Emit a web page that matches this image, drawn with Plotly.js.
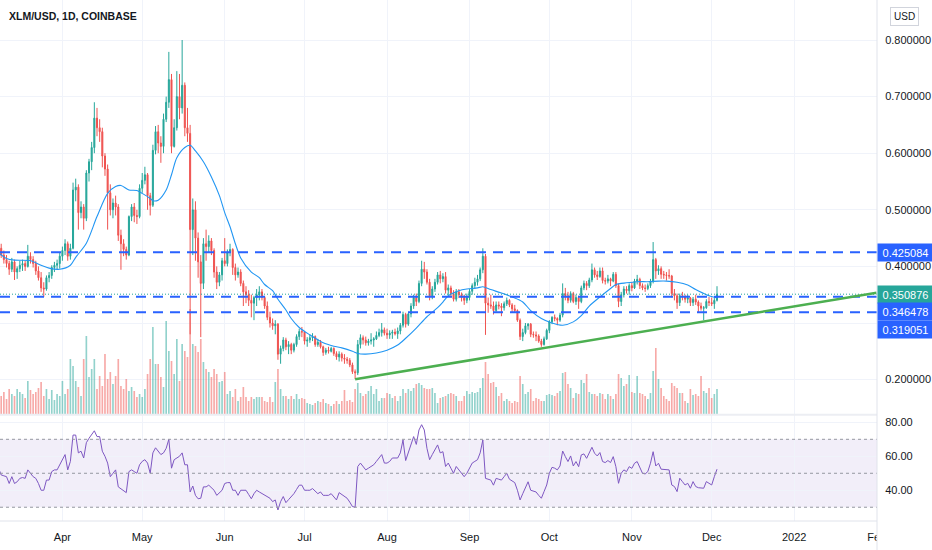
<!DOCTYPE html>
<html><head><meta charset="utf-8">
<script src="https://cdn.plot.ly/plotly-3.0.1.min.js"></script>
<style>html,body{margin:0;padding:0;background:#fff}#chart{width:932px;height:550px}</style>
</head><body><div id="chart"></div>
<script>
// ---------------- DATA (daily candles from 2021-03-08) ----------------
const startDate = '2021-03-08';

const openPrice = [
.415,.432,.42,.412,.405,.395,.408,.39,.396,.402,
.405,.40,.418,.412,.405,.392,.38,.362,.36,.38,
.384,.398,.402,.405,.418,.428,.44,.418,.432,.535,
.54,.495,.505,.485,.565,.585,.61,.662,.645,.638,
.595,.572,.53,.50,.512,.505,.455,.44,.43,.42,
.488,.505,.49,.488,.538,.552,.562,.525,.508,.605,
.638,.618,.612,.66,.69,.73,.612,.645,.70,.68,
.72,.645,.635,.465,.50,.45,.408,.37,.44,.435,
.445,.428,.39,.372,.385,.41,.405,.425,.43,.398,
.385,.39,.37,.355,.35,.34,.335,.345,.35,.355,
.345,.33,.31,.30,.295,.298,.245,.255,.27,.258,
.262,.252,.262,.276,.285,.284,.268,.27,.274,.276,
.262,.266,.258,.248,.252,.25,.255,.246,.24,.245,
.238,.236,.234,.226,.214,.212,.262,.274,.27,.265,
.268,.27,.272,.278,.283,.288,.282,.279,.282,.284,
.281,.286,.296,.315,.298,.316,.33,.345,.338,.37,
.395,.39,.372,.348,.36,.372,.385,.378,.382,.358,
.362,.352,.342,.355,.35,.345,.34,.345,.356,.366,
.372,.378,.394,.418,.335,.332,.33,.322,.332,.33,
.327,.334,.34,.332,.325,.322,.305,.276,.283,.295,
.298,.28,.279,.277,.268,.262,.272,.287,.302,.31,
.308,.305,.314,.352,.348,.34,.352,.338,.345,.338,
.362,.37,.366,.376,.394,.385,.382,.392,.375,.374,
.378,.374,.386,.366,.338,.35,.36,.357,.366,.362,
.374,.377,.366,.362,.361,.366,.374,.412,.392,.396,
.386,.385,.384,.383,.352,.348,.336,.348,.346,.342,
.344,.336,.342,.337,.33,.326,.327,.338,.336,.334,.34];

const highPrice = [
.438,.44,.428,.42,.41,.415,.412,.40,.41,.412,
.41,.438,.425,.418,.41,.40,.39,.372,.384,.39,
.402,.408,.412,.425,.435,.448,.444,.44,.548,.555,
.545,.515,.51,.57,.59,.62,.69,.68,.66,.645,
.60,.58,.545,.52,.525,.51,.465,.448,.435,.49,
.51,.512,.50,.545,.565,.576,.565,.53,.615,.648,
.65,.63,.67,.70,.779,.74,.66,.745,.74,.80,
.725,.68,.65,.52,.515,.46,.42,.45,.465,.455,
.45,.432,.40,.39,.415,.45,.43,.44,.432,.405,
.398,.395,.375,.365,.358,.35,.348,.36,.365,.36,
.348,.338,.32,.308,.305,.30,.26,.275,.274,.268,
.265,.265,.28,.29,.293,.286,.275,.28,.282,.278,
.272,.27,.26,.256,.258,.258,.257,.25,.25,.248,
.245,.24,.238,.23,.218,.27,.28,.278,.276,.272,
.282,.275,.285,.29,.30,.292,.29,.287,.288,.29,
.292,.30,.32,.318,.318,.335,.35,.352,.375,.41,
.408,.395,.378,.365,.378,.39,.392,.388,.39,.368,
.366,.358,.36,.36,.354,.35,.352,.36,.37,.38,
.385,.398,.432,.422,.345,.35,.338,.338,.338,.335,
.338,.345,.342,.335,.332,.324,.308,.29,.30,.30,
.30,.285,.285,.28,.272,.276,.29,.305,.312,.315,
.31,.318,.37,.362,.355,.356,.355,.35,.348,.366,
.375,.374,.38,.405,.398,.392,.398,.398,.38,.385,
.38,.39,.39,.37,.355,.365,.365,.37,.372,.378,
.385,.38,.37,.368,.37,.378,.443,.415,.402,.40,
.392,.39,.395,.385,.36,.352,.352,.355,.35,.35,
.346,.346,.35,.34,.336,.33,.342,.346,.345,.344,.365];

const lowPrice = [
.41,.415,.405,.398,.385,.39,.376,.378,.39,.392,
.392,.398,.405,.398,.385,.375,.355,.346,.357,.372,
.378,.39,.395,.396,.41,.42,.41,.412,.43,.515,
.465,.485,.465,.48,.55,.57,.60,.63,.62,.575,
.56,.465,.49,.485,.49,.445,.394,.418,.412,.418,
.48,.478,.475,.485,.53,.545,.50,.49,.505,.598,
.60,.583,.60,.655,.68,.60,.61,.64,.66,.67,
.63,.62,.28,.42,.41,.38,.275,.36,.41,.425,
.42,.38,.36,.365,.375,.40,.40,.418,.385,.375,
.38,.365,.33,.335,.33,.31,.305,.33,.34,.34,
.325,.305,.292,.288,.28,.235,.228,.25,.252,.245,
.245,.248,.258,.27,.275,.262,.258,.265,.268,.258,
.258,.255,.242,.244,.246,.248,.242,.235,.232,.232,
.228,.228,.222,.21,.201,.208,.255,.262,.26,.26,
.262,.258,.27,.275,.276,.278,.272,.272,.272,.278,
.272,.28,.292,.292,.295,.31,.325,.33,.335,.365,
.378,.368,.34,.342,.355,.368,.37,.372,.352,.348,
.345,.338,.338,.344,.338,.332,.335,.34,.35,.36,
.366,.374,.388,.279,.318,.325,.315,.32,.324,.312,
.322,.33,.328,.318,.318,.302,.27,.268,.28,.288,
.275,.274,.268,.265,.258,.26,.27,.282,.298,.303,
.296,.302,.31,.34,.335,.336,.335,.332,.325,.335,
.358,.358,.362,.372,.38,.376,.38,.37,.368,.37,
.365,.372,.362,.328,.33,.345,.352,.35,.356,.36,
.368,.36,.358,.355,.358,.362,.37,.378,.385,.378,
.378,.375,.378,.345,.34,.325,.33,.34,.336,.335,
.33,.33,.332,.318,.322,.305,.325,.33,.33,.325,.338];

const closePrice = [
.432,.42,.412,.405,.395,.408,.39,.396,.402,.405,
.40,.418,.412,.405,.392,.38,.362,.36,.38,.384,
.398,.402,.405,.418,.428,.44,.418,.432,.535,.54,
.495,.505,.485,.565,.585,.61,.662,.645,.638,.595,
.572,.53,.50,.512,.505,.455,.44,.43,.42,.488,
.505,.49,.488,.538,.552,.562,.525,.508,.605,.638,
.618,.612,.66,.69,.73,.612,.645,.70,.68,.72,
.645,.635,.465,.50,.45,.408,.37,.44,.435,.445,
.428,.39,.372,.385,.41,.405,.425,.43,.398,.385,
.39,.37,.355,.35,.34,.335,.345,.35,.355,.345,
.33,.31,.30,.295,.298,.245,.255,.27,.258,.262,
.252,.262,.276,.285,.284,.268,.27,.274,.276,.262,
.266,.258,.248,.252,.25,.255,.246,.24,.245,.238,
.236,.234,.226,.214,.212,.262,.274,.27,.265,.268,
.27,.272,.278,.283,.288,.282,.279,.282,.284,.281,
.286,.296,.315,.298,.316,.33,.345,.338,.37,.395,
.39,.372,.348,.36,.372,.385,.378,.382,.358,.362,
.352,.342,.355,.35,.345,.34,.345,.356,.366,.372,
.378,.394,.418,.335,.332,.33,.322,.332,.33,.327,
.334,.34,.332,.325,.322,.305,.276,.283,.295,.298,
.28,.279,.277,.268,.262,.272,.287,.302,.31,.308,
.305,.314,.352,.348,.34,.352,.338,.345,.338,.362,
.37,.366,.376,.394,.385,.382,.392,.375,.374,.378,
.374,.386,.366,.338,.35,.36,.357,.366,.362,.374,
.377,.366,.362,.361,.366,.374,.412,.392,.396,.386,
.385,.384,.383,.352,.348,.336,.348,.346,.342,.344,
.336,.342,.337,.33,.326,.327,.338,.336,.334,.34,.350876];

const volume = [
20,18,22,15,25,20,18,25,22,20,
16,33,24,20,22,26,32,18,25,15,
24,14,20,18,33,20,25,55,48,33,
27,18,55,78,37,45,55,25,38,28,
60,35,42,30,38,55,28,25,35,23,
27,23,17,20,17,25,40,55,87,50,
50,37,27,93,63,53,40,75,33,70,
63,57,105,70,68,62,75,52,45,42,
37,45,40,32,33,42,20,23,17,25,
13,17,27,17,13,17,15,17,17,17,
13,12,17,12,32,45,25,18,18,15,
18,15,20,15,16,15,11,10,9,11,
13,12,15,11,10,8,10,13,10,13,
24,13,14,12,25,31,21,18,20,23,
28,20,25,13,16,16,21,20,16,18,
13,18,25,21,25,23,26,30,31,29,
26,25,25,26,21,11,16,17,18,20,
21,20,18,13,13,18,23,20,22,21,
22,26,36,52,40,31,32,27,18,21,
13,15,13,11,13,12,38,30,20,22,
25,13,16,15,13,13,19,20,19,18,
21,23,41,42,30,26,16,21,20,34,
31,40,22,20,20,18,21,20,15,20,
18,15,20,40,36,28,30,39,22,21,
38,21,20,18,15,21,43,66,35,26,
18,15,13,31,28,26,21,21,13,11,
25,19,20,18,38,23,21,26,16,20,25];

const rsiValue = [
53,49,48.5,48,44,48,44,45,47,47.5,
47,52,50,48,47,44,40,40,46,46,
51,52,52,55,58,61,52,57,72.5,72.5,
62,63,59,68,70.6,73,75,71.6,71.6,63,
60,56,48,50,52,42,41,40,38.6,51,
52,51,50,55,57,58,56,50,62,65,
63,61,62,64.7,70,53,58,59,60,62,
55,55,39,42.5,37,35,35.3,42,42,43,
41.5,40,37,38.5,40,44,44.5,44.5,40,40,
37,40,40,40,37.5,35,38,40,39,38,
37,36.3,35.3,33.3,34.3,28.4,33.3,36.3,32.7,34.5,
36.3,38,40.5,43,43,40,40,40,41,39.5,
38,39,37,37,37,38,36,34.3,38.6,37.5,
36.7,35.3,33,30.4,30,54,56,54,52,53,
54,55,57,59,61,56,56,57,59,59,
59,62,69.6,57.5,62,67,71.6,67,75.5,78.6,
75.5,64.7,58,61,63.7,66.7,62,62.7,54,56,
53,50,54,52,50.4,48,50,53,56,57,
58,62,69.6,47,46.5,46,43,47,46.5,46,
48,50,46.5,45.5,44.5,40,34.3,38,42,45,
40,39.5,39,37,35.3,39.2,43.1,50,53.5,53,
52,54.3,63.1,59.8,56.9,60.2,54.3,56.9,53.9,60.8,
61.4,58.8,61.8,65.3,61.8,60.2,62.2,56.9,56.3,57.5,
56.3,59.8,53.9,44.1,50,52,51,53.9,52.9,55.9,
56.9,52.9,50,49.6,51,55.9,62.7,54.3,55.9,52.4,
52.2,52,52,43.1,42.2,39.2,47.1,45.1,43.1,44.1,
41.2,45.1,42.2,41.5,41.2,41.2,45.1,44,43.1,48,52.4];

// moving average, read at sampled days (day index from startDate)
const maDay = [0,3,6,12,16,19,23,27,29,33,37,41,44,46,49,52,54,57,58,60,63,65,67,70,72,74,77,80,83,85,87,89,91,95,98,100,103,105,108,110,113,117,122,126,129,133,135,138,142,146,150,153,157,161,165,167,169,173,176,180,182,185,189,193,197,200,204,208,212,216,219,222,226,230,232,236,240,244,248,251,255,259,262,266,270];
const maValue = [.424,.414,.411,.41,.402,.397,.395,.402,.416,.441,.488,.529,.541,.543,.535,.534,.529,.52,.516,.517,.535,.562,.592,.61,.614,.604,.585,.558,.525,.495,.47,.44,.415,.39,.38,.368,.357,.342,.323,.308,.292,.279,.265,.259,.256,.25,.246,.245,.247,.252,.261,.273,.291,.311,.327,.337,.348,.357,.36,.362,.364,.359,.353,.346,.337,.322,.308,.30,.296,.302,.313,.33,.346,.361,.368,.371,.373,.373,.374,.374,.372,.367,.359,.35,.344];

const monthTicks = ['2021-04-01','2021-05-01','2021-06-01','2021-07-01','2021-08-01','2021-09-01','2021-10-01','2021-11-01','2021-12-01','2022-01-01','2022-02-01'];
const monthLabels = ['Apr','May','Jun','Jul','Aug','Sep','Oct','Nov','Dec','2022','Feb'];
const priceTicks = [0.2,0.3,0.4,0.5,0.6,0.7,0.8];
const priceTickText = ['0.200000','','0.400000','0.500000','0.600000','0.700000','0.800000'];
const rsiTicks = [40,60,80];
const rsiTickText = ['40.00','60.00','80.00'];
const rsiLevels = [70,50,30];
const levelPrices = [0.425084,0.346478,0.319051];
const levelLabels = ['0.425084','0.346478','0.319051'];
const lastPrice = 0.350876;
const lastPriceLabel = '0.350876';
const trendStart = ['2021-07-20',0.2005];
const trendEnd = ['2022-02-01',0.3534];
const chartTitle = 'XLM/USD, 1D, COINBASE';
const currencyLabel = 'USD';

// ---------------- BUILD ----------------
const DAY = 86400000;
const base = Date.parse(startDate + 'T00:00:00Z');
const toDate = k => new Date(base + k * DAY).toISOString().slice(0, 10);
const dates = closePrice.map((_, k) => toDate(k));
const maDates = maDay.map(toDate);

const UP = '#26a69a', DOWN = '#ef5350', BLUE = '#2962ff';
const FONT = 'Liberation Sans, Arial, sans-serif';
const TXT = '#131722';
const GRID = '#f0f3fa';

const volColors = closePrice.map((c, i) => c >= openPrice[i] ? 'rgba(38,166,154,0.5)' : 'rgba(239,83,80,0.5)');

const traces = [
  { type: 'bar', x: dates, y: volume, xaxis: 'x', yaxis: 'y2', marker: { color: volColors, line: { width: 0 } }, width: 0.62 * DAY, hoverinfo: 'skip' },
  { type: 'candlestick', x: dates, open: openPrice, high: highPrice, low: lowPrice, close: closePrice, xaxis: 'x', yaxis: 'y',
    increasing: { line: { color: UP, width: 1 }, fillcolor: UP },
    decreasing: { line: { color: DOWN, width: 1 }, fillcolor: DOWN },
    whiskerwidth: 0, hoverinfo: 'skip' },
  { type: 'scatter', mode: 'lines', x: maDates, y: maValue, xaxis: 'x', yaxis: 'y', line: { color: '#2196f3', width: 1.1, shape: 'spline', smoothing: 0.8 }, hoverinfo: 'skip' },
  { type: 'scatter', mode: 'lines', x: dates, y: rsiValue, xaxis: 'x', yaxis: 'y3', line: { color: '#7e57c2', width: 1 }, hoverinfo: 'skip' }
];

const split = 107 / 521;
const shapes = [];
shapes.push({ type: 'rect', xref: 'paper', x0: 0, x1: 1, yref: 'y3', y0: 30, y1: 70, fillcolor: 'rgba(126,87,194,0.1)', line: { width: 0 }, layer: 'below' });
rsiLevels.forEach(v => shapes.push({ type: 'line', xref: 'paper', x0: 0, x1: 1, yref: 'y3', y0: v, y1: v, line: { color: '#9598a1', width: 1, dash: '3px,3px' } }));
shapes.push({ type: 'line', xref: 'paper', x0: 0, x1: 1, yref: 'y', y0: lastPrice, y1: lastPrice, line: { color: UP, width: 1, dash: '1px,2px' } });
levelPrices.forEach(v => shapes.push({ type: 'line', xref: 'paper', x0: 0, x1: 1, yref: 'y', y0: v, y1: v, line: { color: BLUE, width: 2, dash: '10px,7px' } }));
shapes.push({ type: 'line', xref: 'x', yref: 'y', x0: trendStart[0], y0: trendStart[1], x1: trendEnd[0], y1: trendEnd[1], line: { color: '#4caf50', width: 2.5 } });
shapes.push({ type: 'line', xref: 'paper', x0: 0, x1: 1, yref: 'paper', y0: (521 - 414.8) / 521, y1: (521 - 414.8) / 521, line: { color: '#eceef3', width: 2 } });
shapes.push({ type: 'line', xref: 'paper', x0: 0, x1: 1, yref: 'paper', y0: 0, y1: 0, line: { color: '#e0e3eb', width: 1 } });
shapes.push({ type: 'rect', xref: 'paper', x0: 1, x1: 1.08, yref: 'paper', y0: -0.06, y1: -0.002, fillcolor: '#ffffff', line: { width: 0 }, layer: 'above' });
shapes.push({ type: 'line', xref: 'paper', x0: 1, x1: 1, yref: 'paper', y0: -0.06, y1: 1, line: { color: '#e0e3eb', width: 1 } });

const labelBox = (text, y, color, yshift) => ({
  xref: 'paper', x: 1, xanchor: 'left', yref: 'y', y: y, yanchor: 'middle', yshift: yshift,
  text: text, showarrow: false, bgcolor: color, width: 51, height: 13, borderpad: 2, align: 'center',
  font: { family: FONT, size: 11, color: '#ffffff' }
});

const annotations = [
  { xref: 'paper', x: 0.008, xanchor: 'left', yref: 'paper', y: 1 - 16 / 521, yanchor: 'middle', text: '<b>' + chartTitle + '</b>', showarrow: false, font: { family: FONT, size: 10.5, color: TXT } },
  { xref: 'paper', x: 904.7 / 877, xanchor: 'center', yref: 'paper', y: 1 - 16.3 / 521, yanchor: 'middle', text: currencyLabel, showarrow: false, bgcolor: '#ffffff', bordercolor: '#d1d4dc', borderwidth: 1, borderpad: 3, font: { family: FONT, size: 10, color: TXT } },
  labelBox(levelLabels[0], levelPrices[0], BLUE, 0),
  labelBox(lastPriceLabel, lastPrice, UP, 0),
  labelBox(levelLabels[1], levelPrices[1], BLUE, -15),
  labelBox(levelLabels[2], levelPrices[2], BLUE, -17)
];

const layout = {
  width: 932, height: 550,
  margin: { l: 0, r: 55, t: 0, b: 29, pad: 0 },
  paper_bgcolor: '#ffffff', plot_bgcolor: '#ffffff',
  showlegend: false, dragmode: false, hovermode: false,
  boxgap: 0.45, bargap: 0.3,
  font: { family: FONT, size: 11, color: TXT },
  xaxis: {
    type: 'date', range: ['2021-03-08 13:10:00', '2022-02-01 03:07:00'], anchor: 'y3',
    tickvals: monthTicks, ticktext: monthLabels, showgrid: true, gridcolor: GRID, gridwidth: 1,
    ticks: 'outside', ticklen: 6, tickcolor: 'rgba(0,0,0,0)', showline: false, zeroline: false,
    tickfont: { family: FONT, size: 11, color: TXT }, rangeslider: { visible: false }, fixedrange: true
  },
  yaxis: {
    domain: [split, 1], anchor: 'x', side: 'right', range: [0.13922, 0.87067],
    tickvals: priceTicks, ticktext: priceTickText, showgrid: true, gridcolor: GRID,
    ticks: 'outside', ticklen: 5, tickcolor: 'rgba(0,0,0,0)', zeroline: false, showline: false,
    tickfont: { family: FONT, size: 11, color: TXT }, fixedrange: true
  },
  yaxis2: { overlaying: 'y', anchor: 'x', range: [0, 414], visible: false, fixedrange: true },
  yaxis3: {
    domain: [0, split], anchor: 'x', side: 'right', range: [21.9, 84.9],
    tickvals: rsiTicks, ticktext: rsiTickText, showgrid: true, gridcolor: GRID,
    ticks: 'outside', ticklen: 5, tickcolor: 'rgba(0,0,0,0)', zeroline: false, showline: false,
    tickfont: { family: FONT, size: 11, color: TXT }, fixedrange: true
  },
  shapes: shapes,
  annotations: annotations
};

Plotly.newPlot('chart', traces, layout, { staticPlot: true, displayModeBar: false });
</script>
</body></html>
